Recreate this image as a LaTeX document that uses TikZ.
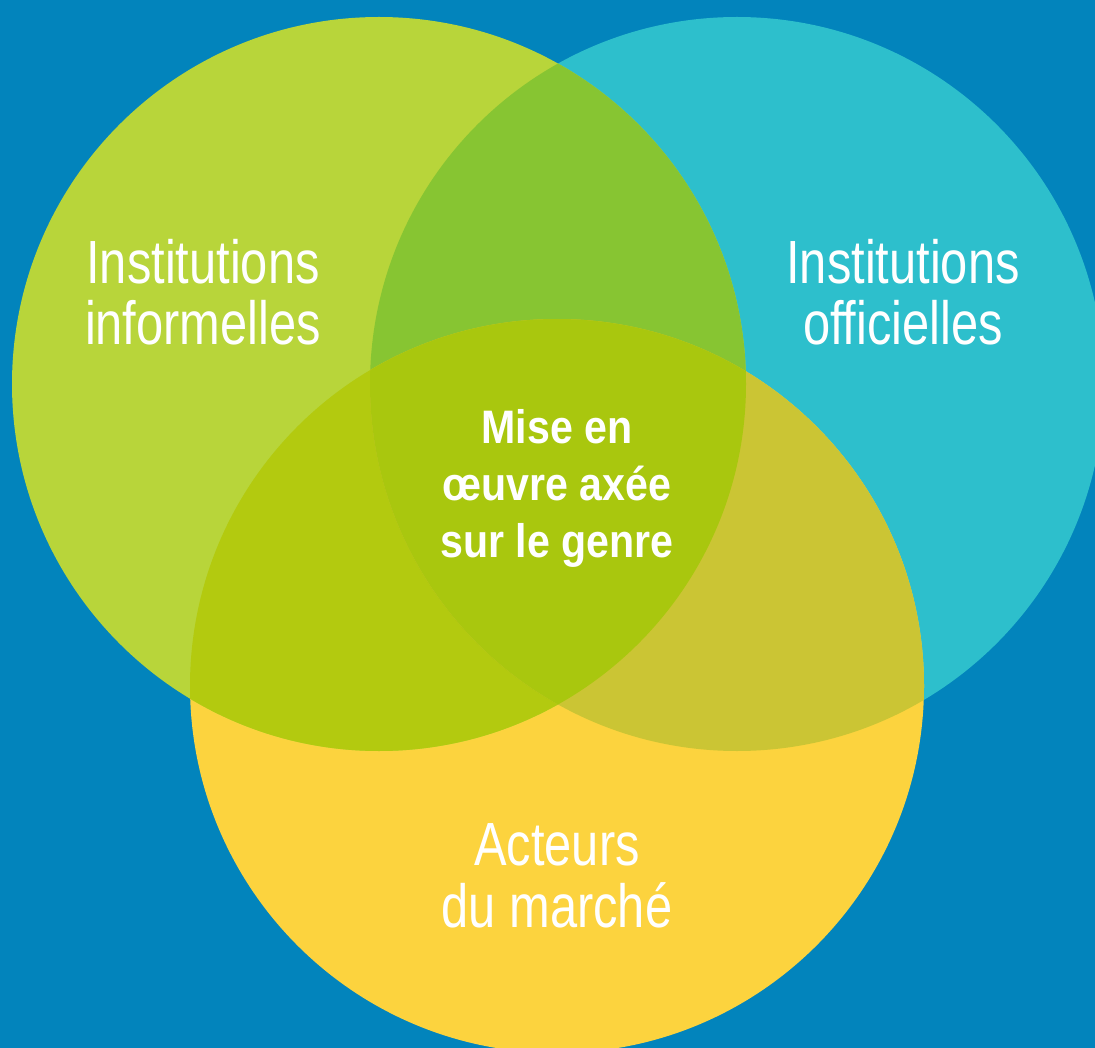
\documentclass[tikz,border=0pt]{standalone}
\usepackage{fontspec}
\setmainfont{Liberation Sans}[FakeStretch=0.80]
\newfontfamily\boldcond{Liberation Sans}[FakeStretch=0.875,UprightFont=*-Bold]
\definecolor{bgblue}{HTML}{0284BC}
\definecolor{cleft}{HTML}{B8D53A}
\definecolor{cright}{HTML}{2DBFCC}
\definecolor{cbottom}{HTML}{FCD33E}
\definecolor{clr}{HTML}{87C532}
\definecolor{clb}{HTML}{B3CA0F}
\definecolor{crb}{HTML}{CBC534}
\definecolor{call}{HTML}{A9C70E}
\tikzset{
  lbl/.style={text=white,font=\fontsize{61}{61}\selectfont,anchor=base,inner sep=0pt},
  clbl/.style={text=white,font=\boldcond\fontsize{47}{47}\selectfont,anchor=base,inner sep=0pt}
}
\begin{document}
\begin{tikzpicture}[x=1pt,y=-1pt]
\fill[bgblue] (0,0) rectangle (1095,1048);
\useasboundingbox (0,0) rectangle (1095,1048);
\begin{scope}
\clip (0,0) rectangle (1095,1048);
\fill[cright] (737,384) circle[radius=367];
\fill[cbottom] (557,686) circle[radius=367];
\fill[cleft] (379,384) circle[radius=367];
\begin{scope}
\clip (379,384) circle[radius=367];
\fill[clr] (737,384) circle[radius=367];
\fill[clb] (557,686) circle[radius=367];
\end{scope}
\begin{scope}
\clip (737,384) circle[radius=367];
\fill[crb] (557,686) circle[radius=367];
\clip (379,384) circle[radius=367];
\fill[call] (557,686) circle[radius=367];
\end{scope}
\end{scope}
\node[lbl] (l1) at (203,284) {Institutions};
\node[lbl] (l2) at (203,345) {informelles};
\node[lbl] (r1) at (903,284) {Institutions};
\node[lbl] (r2) at (903,345) {officielles};
\node[lbl] (b1) at (557,865) {Acteurs};
\node[lbl] (b2) at (557,927) {du marché};
\node[clbl] (c1) at (557,443) {Mise en};
\node[clbl] (c2) at (557,500) {œuvre axée};
\node[clbl] (c3) at (557,557) {sur le genre};
\end{tikzpicture}
\end{document}
